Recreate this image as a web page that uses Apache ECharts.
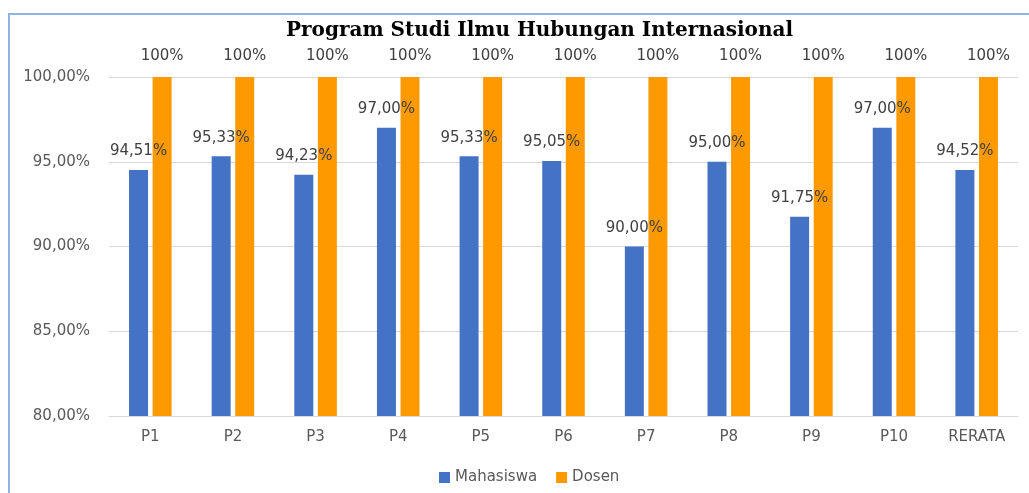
<!DOCTYPE html>
<html>
<head>
<meta charset="utf-8">
<script src="https://cdn.jsdelivr.net/npm/echarts@6/dist/echarts.min.js"></script>
<style>
  html, body { margin: 0; padding: 0; background: #fff; }
  #chart { width: 1029px; height: 493px; }
</style>
</head>
<body>
<div id="chart"></div>
<script>
// data
var categories = ['P1', 'P2', 'P3', 'P4', 'P5', 'P6', 'P7', 'P8', 'P9', 'P10', 'RERATA']
var mahasiswa = [94.51, 95.33, 94.23, 97.00, 95.33, 95.05, 90.00, 95.00, 91.75, 97.00, 94.52]
var dosen = [100, 100, 100, 100, 100, 100, 100, 100, 100, 100, 100]

var sans = 'DejaVu Sans'
var grey = '#595959'

function pct2 (v) {
  return v.toFixed(2).replace('.', ',') + '%'
}

var chart = echarts.init(document.getElementById('chart'))
var option = {
  animation: false,
  title: {
    text: 'Program Studi Ilmu Hubungan Internasional',
    left: 281,
    top: 16,
    textStyle: {
      fontFamily: 'DejaVu Serif',
      fontWeight: 'bold',
      fontSize: 20,
      color: '#000'
    }
  },
  // light blue frame on top and left, like the screenshot edge
  graphic: [
    {
      type: 'polyline',
      shape: { points: [[9, 493], [9, 14], [1029, 14]] },
      style: { stroke: '#8db3e2', lineWidth: 2, fill: null },
      silent: true
    }
  ],
  legend: {
    data: ['Mahasiswa', 'Dosen'],
    top: 465,
    left: 434,
    itemWidth: 11,
    itemHeight: 11,
    itemGap: 19,
    icon: 'rect',
    textStyle: { fontFamily: sans, fontSize: 15, color: grey }
  },
  grid: {
    left: 109,
    right: 11,
    top: 77,
    bottom: 77
  },
  xAxis: {
    type: 'category',
    data: categories,
    axisLine: { lineStyle: { color: '#d9d9d9', width: 1 } },
    axisTick: { show: false },
    axisLabel: { fontFamily: sans, fontSize: 15, color: grey, margin: 14 }
  },
  yAxis: {
    type: 'value',
    min: 80,
    max: 100,
    interval: 5,
    axisLine: { show: false },
    axisTick: { show: false },
    splitLine: { lineStyle: { color: '#d9d9d9', width: 1 } },
    axisLabel: {
      fontFamily: sans,
      fontSize: 15,
      color: grey,
      margin: 19,
      formatter: pct2
    }
  },
  series: [
    {
      name: 'Mahasiswa',
      type: 'bar',
      data: mahasiswa,
      barWidth: 19,
      barGap: '24%',
      itemStyle: { color: '#4472c4' },
      label: {
        show: true,
        position: 'top',
        distance: 11,
        fontFamily: sans,
        fontSize: 15,
        color: '#404040',
        formatter: function (p) { return pct2(p.value) }
      }
    },
    {
      name: 'Dosen',
      type: 'bar',
      data: dosen,
      barWidth: 19,
      itemStyle: { color: '#ff9900' },
      label: {
        show: true,
        position: 'top',
        distance: 13,
        fontFamily: sans,
        fontSize: 15,
        color: '#404040',
        formatter: function (p) { return p.value + '%' }
      }
    }
  ]
}
chart.setOption(option)
</script>
</body>
</html>
